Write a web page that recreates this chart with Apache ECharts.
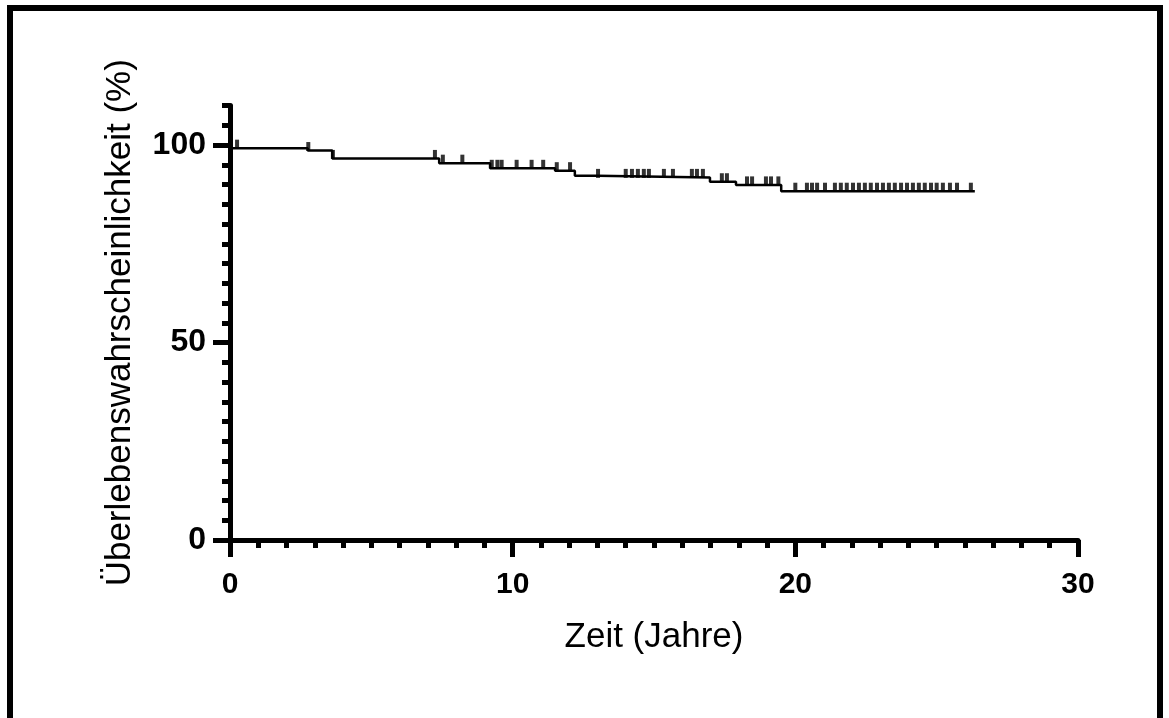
<!DOCTYPE html>
<html>
<head>
<meta charset="utf-8">
<script src="https://cdn.jsdelivr.net/npm/echarts@6/dist/echarts.min.js"></script>
<style>
  html, body { margin: 0; padding: 0; background: #fff; }
  #km { width: 1169px; height: 718px; }
</style>
</head>
<body>
<div id="km"></div>
<script>
// Kaplan-Meier: Zeitpunkte der Ereignisse (Jahre) und Überleben danach (%)
const eventTimes = [0, 0.05, 2.75, 3.62, 7.4, 9.2, 11.5, 12.2, 13.0, 16.98, 17.9, 19.5, 26.35]
const survival = [100, 99.2, 98.6, 96.6, 95.4, 94.1, 93.5, 92.2, 91.8, 90.7, 89.9, 88.3, 88.3]

// zensierte Fälle (Jahre)
const censorTimes = [
  0.25, 2.77, 3.64, 7.25, 7.53, 8.22,
  9.26, 9.46, 9.61, 10.14, 10.67, 11.08, 11.56, 12.03, 13.02,
  14.0, 14.22, 14.43, 14.64, 14.82, 15.35, 15.67, 16.34, 16.52, 16.73,
  17.4, 17.58, 18.29, 18.47, 18.96, 19.14, 19.4,
  20.0, 20.41, 20.59, 20.77, 21.05, 21.4, 21.61, 21.82, 22.04, 22.25,
  22.46, 22.67, 22.89, 23.1, 23.31, 23.52, 23.74, 23.95, 24.16, 24.37,
  24.58, 24.8, 25.0, 25.22, 25.47, 25.72, 26.21
]

const xTicks = [0, 10, 20, 30]
const yTicks = [0, 50, 100]

const font = 'Liberation Sans, Arial, sans-serif'

function levelAt(t) {
  let s = survival[0]
  for (let i = 0; i < eventTimes.length; i++) {
    if (eventTimes[i] <= t) s = survival[i]
  }
  return s
}

const lineData = eventTimes.map((t, i) => [t, survival[i]])
const censorData = censorTimes.map(t => [t, levelAt(t)])

const chart = echarts.init(document.getElementById('km'))
const option = {
  animation: false,
  backgroundColor: '#fff',
  graphic: [{
    type: 'rect',
    shape: { x: 10, y: 8, width: 1150, height: 740 },
    style: { fill: 'none', stroke: '#000', lineWidth: 6 },
    silent: true
  }],
  grid: {
    left: 230,
    right: 91,
    top: 105.5,
    bottom: 178
  },
  xAxis: {
    type: 'value',
    min: 0,
    max: 30,
    interval: 10,
    name: 'Zeit (Jahre)',
    nameLocation: 'middle',
    nameGap: 80,
    nameTextStyle: { fontFamily: font, fontSize: 35, color: '#000' },
    axisLine: { lineStyle: { color: '#000', width: 5 } },
    axisTick: { length: 17, lineStyle: { color: '#000', width: 5 } },
    minorTick: { show: true, splitNumber: 10, length: 8, lineStyle: { color: '#000', width: 5 } },
    axisLabel: {
      margin: 30,
      fontFamily: font,
      fontSize: 30,
      fontWeight: 'bold',
      color: '#000',
      customValues: xTicks
    },
    splitLine: { show: false }
  },
  yAxis: [
    {
      type: 'value',
      min: 0,
      max: 110,
      interval: 5,
      position: 'left',
      axisLine: { show: true, lineStyle: { color: '#000', width: 5 } },
      axisTick: { length: 8, lineStyle: { color: '#000', width: 5 } },
      axisLabel: { show: false },
      splitLine: { show: false }
    },
    {
      type: 'value',
      min: 0,
      max: 110,
      position: 'left',
      name: 'Überlebenswahrscheinlichkeit (%)',
      nameLocation: 'middle',
      nameGap: 92,
      nameTextStyle: { fontFamily: font, fontSize: 35, color: '#000' },
      axisLine: { show: false },
      axisTick: { show: true, customValues: yTicks, length: 17, lineStyle: { color: '#000', width: 5 } },
      axisLabel: {
        customValues: yTicks,
        margin: 24,
        fontFamily: font,
        fontSize: 32,
        fontWeight: 'bold',
        color: '#000'
      },
      splitLine: { show: false }
    }
  ],
  series: [
    {
      type: 'line',
      step: 'end',
      data: lineData,
      symbol: 'none',
      lineStyle: { color: '#000', width: 2.5 },
      yAxisIndex: 0
    },
    {
      type: 'scatter',
      data: censorData,
      symbol: 'rect',
      symbolSize: [4, 9],
      symbolOffset: [0, -4],
      itemStyle: { color: '#000' },
      yAxisIndex: 0
    }
  ]
}
chart.setOption(option)
window.onresize = function() {
  chart.resize()
}
</script>
</body>
</html>
